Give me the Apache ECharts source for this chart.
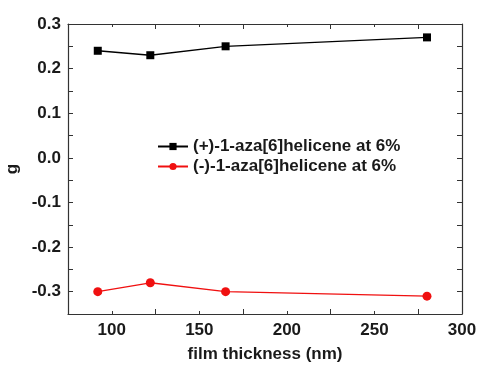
<!DOCTYPE html>
<html><head><meta charset="utf-8">
<script src="https://cdn.jsdelivr.net/npm/echarts@6/dist/echarts.min.js"></script>
<style>html,body{margin:0;padding:0;background:#fff}#c{width:479px;height:367px}</style>
</head><body><div id="c"></div>
<script>
const thickness = [92, 122, 165, 280];
const plusValues = [0.24, 0.23, 0.25, 0.27];
const minusValues = [-0.30, -0.28, -0.30, -0.31];
const seriesNames = ['(+)-1-aza[6]helicene at 6%', '(-)-1-aza[6]helicene at 6%'];
const xTitle = 'film thickness (nm)';
const yTitle = 'g';

const font = 'Liberation Sans, Arial, sans-serif';
const axisCol = '#333';
const txtCol = '#1a1a1a';
const chart = echarts.init(document.getElementById('c'));
const tickCommon = {show: true, inside: true, length: 5, lineStyle: {color: axisCol, width: 1}};
const minorCommon = {show: true, splitNumber: 2, length: 3, lineStyle: {color: axisCol, width: 1}};
chart.setOption({
  animation: false,
  grid: {left: 68, right: 17, top: 24, bottom: 53, outerBoundsMode: 'none', containLabel: false},
  legend: {
    orient: 'vertical', left: 152, top: 133, itemGap: 3, itemWidth: 30, itemHeight: 9,
    textStyle: {fontFamily: font, fontWeight: 'bold', fontSize: 17, color: txtCol},
    data: seriesNames
  },
  xAxis: [{
    type: 'value', min: 75, max: 300, interval: 50,
    axisLine: {show: true, onZero: false, lineStyle: {color: axisCol, width: 1.2}},
    axisTick: tickCommon, minorTick: minorCommon, splitLine: {show: false},
    axisLabel: {fontFamily: font, fontWeight: 'bold', fontSize: 17, color: txtCol, margin: 8,
      customValues: [100, 150, 200, 250, 300]},
    name: xTitle, nameLocation: 'middle', nameGap: 32,
    nameTextStyle: {fontFamily: font, fontWeight: 'bold', fontSize: 17, color: txtCol}
  }, {
    type: 'value', min: 75, max: 300, interval: 50, position: 'top',
    axisLine: {show: true, onZero: false, lineStyle: {color: axisCol, width: 1.2}},
    axisTick: tickCommon, minorTick: minorCommon, splitLine: {show: false},
    axisLabel: {show: false}
  }],
  yAxis: [{
    type: 'value', min: -0.35, max: 0.3,
    axisLine: {show: true, onZero: false, lineStyle: {color: axisCol, width: 1.2}},
    axisTick: {show: true, inside: true, length: 5, lineStyle: {color: axisCol},
      customValues: [-0.3, -0.25, -0.2, -0.15, -0.1, -0.05, 0, 0.05, 0.1, 0.15, 0.2, 0.25, 0.3]},
    splitLine: {show: false},
    axisLabel: {fontFamily: font, fontWeight: 'bold', fontSize: 17, color: txtCol, margin: 7,
      customValues: [-0.3, -0.2, -0.1, 0, 0.1, 0.2, 0.3],
      formatter: v => v.toFixed(1)},
    name: yTitle, nameLocation: 'middle', nameGap: 45, nameRotate: 90,
    nameTextStyle: {fontFamily: font, fontWeight: 'bold', fontSize: 17, color: txtCol}
  }, {
    type: 'value', min: -0.35, max: 0.3, position: 'right',
    axisLine: {show: true, onZero: false, lineStyle: {color: axisCol, width: 1.2}},
    axisTick: {show: true, inside: true, length: 5, lineStyle: {color: axisCol},
      customValues: [-0.3, -0.25, -0.2, -0.15, -0.1, -0.05, 0, 0.05, 0.1, 0.15, 0.2, 0.25, 0.3]},
    splitLine: {show: false}, axisLabel: {show: false}
  }],
  series: [{
    name: seriesNames[0], type: 'line', symbol: 'rect', symbolSize: 8,
    data: thickness.map((x, i) => [x, plusValues[i]]),
    itemStyle: {color: '#000'}, lineStyle: {color: '#000', width: 1.3}
  }, {
    name: seriesNames[1], type: 'line', symbol: 'circle', symbolSize: 9,
    data: thickness.map((x, i) => [x, minusValues[i]]),
    itemStyle: {color: '#f01010'}, lineStyle: {color: '#f01010', width: 1.3}
  }]
});
</script></body></html>
